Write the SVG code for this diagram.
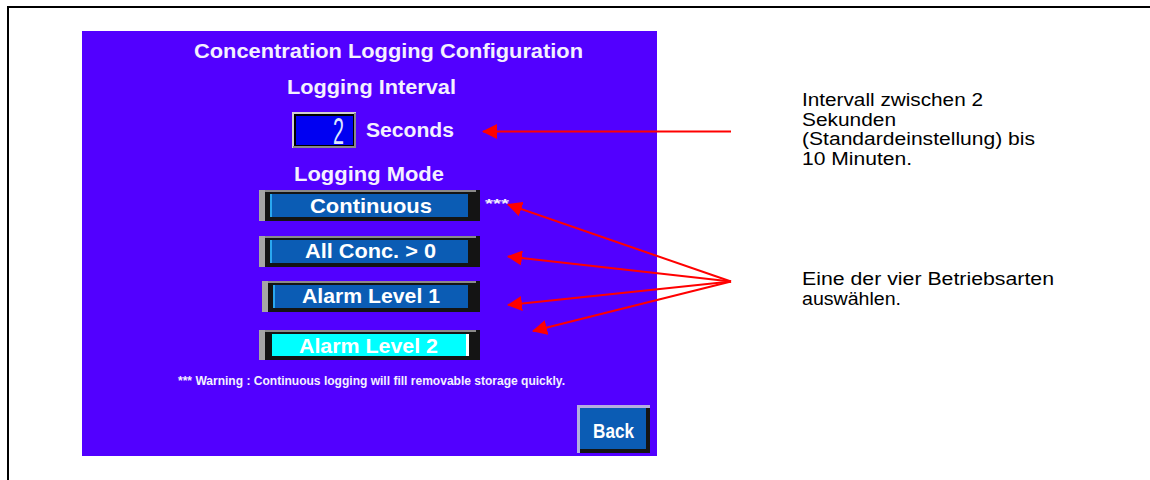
<svg xmlns="http://www.w3.org/2000/svg" width="1150" height="480" viewBox="0 0 1150 480">
  <style>
    .frame { fill: none; stroke: #000; stroke-width: 2; }
    .panel { fill: #5200ff; }
    .hdr { font-family: "Liberation Sans", Arial, sans-serif; font-weight: bold; font-size: 20px; fill: #f4f0ff; }
    .btn-body { fill: #141414; }
    .btn-bevel { fill: #a6a6a6; }
    .btn-top { fill: #8a8a8a; }
    .btn-face { fill: #0b5cb4; }
    .btn-face-hl { fill: #2aa8f0; }
    .btn-face-on { fill: #00ffff; }
    .btn-label { font-family: "Liberation Sans", Arial, sans-serif; font-weight: bold; font-size: 21px; fill: #ffffff; }
    .note { font-family: "Liberation Sans", Arial, sans-serif; font-size: 17.5px; fill: #000; }
    .warn { font-family: "Liberation Sans", Arial, sans-serif; font-weight: bold; font-size: 12px; fill: #f4f0ff; }
    .arrow { stroke: #ff0000; stroke-width: 2; fill: none; marker-end: url(#arrowhead); }
  </style>
  <defs>
    <marker id="arrowhead" markerUnits="userSpaceOnUse" markerWidth="15" markerHeight="15" viewBox="0 0 15 15" refX="14" refY="7.5" orient="auto">
      <path d="M0,0 L15,7.5 L0,15 Z" fill="#ff0000"/>
    </marker>
  </defs>

  <rect width="1150" height="480" fill="#ffffff"/>
  <!-- page frame (open to the right and bottom) -->
  <path class="frame" d="M8,480 L8,7 L1150,7"/>

  <!-- screen panel -->
  <g id="screen">
    <rect class="panel" x="82" y="31" width="575" height="425"/>
    <text class="hdr" x="194" y="58" textLength="389" lengthAdjust="spacingAndGlyphs">Concentration Logging Configuration</text>
    <text class="hdr" x="287" y="94" textLength="169" lengthAdjust="spacingAndGlyphs">Logging Interval</text>
  </g>

  <g id="interval-input">
    <rect x="292" y="112" width="64" height="36" fill="#d0d0d0"/>
    <rect x="354" y="113" width="2" height="35" fill="#8a8a8a"/>
    <rect x="293" y="146" width="63" height="2" fill="#8a8a8a"/>
    <rect x="294" y="114" width="60" height="32" fill="#000000"/>
    <rect x="296" y="116" width="57" height="29" fill="#0000f2"/>
    <text x="344" y="144" text-anchor="end" font-family="Liberation Sans, Arial, sans-serif" font-size="36" fill="#dce6ff" textLength="11" lengthAdjust="spacingAndGlyphs">2</text>
  </g>
  <g id="seconds-label">
    <text class="hdr" x="366" y="136.5" textLength="88" lengthAdjust="spacingAndGlyphs">Seconds</text>
  </g>

  <g id="mode-title">
    <text class="hdr" x="294" y="181" textLength="150" lengthAdjust="spacingAndGlyphs">Logging Mode</text>
  </g>

  <!-- mode buttons -->
  <g id="btn-continuous">
    <rect class="btn-body" x="259" y="190" width="221" height="31"/>
    <rect class="btn-top" x="259" y="190" width="217" height="2"/>
    <rect class="btn-bevel" x="259" y="190" width="6" height="31"/>
    <rect class="btn-face" x="270" y="194" width="198" height="23"/>
    <rect class="btn-face-hl" x="270" y="194" width="2" height="23"/>
    <text class="btn-label" x="310" y="213.3" textLength="122" lengthAdjust="spacingAndGlyphs">Continuous</text>
  </g>
  <g id="continuous-mark">
    <text class="warn" x="485" y="208" font-size="14" textLength="24" lengthAdjust="spacingAndGlyphs">***</text>
  </g>

  <g id="btn-all-conc">
    <rect class="btn-body" x="259" y="236" width="221" height="31"/>
    <rect class="btn-top" x="259" y="236" width="217" height="2"/>
    <rect class="btn-bevel" x="259" y="236" width="6" height="31"/>
    <rect class="btn-face" x="270" y="240" width="198" height="23"/>
    <rect class="btn-face-hl" x="270" y="240" width="2" height="23"/>
    <text class="btn-label" x="305" y="258" textLength="131" lengthAdjust="spacingAndGlyphs">All Conc. &gt; 0</text>
  </g>

  <g id="btn-alarm-1">
    <rect class="btn-body" x="262" y="281" width="218" height="31"/>
    <rect class="btn-top" x="262" y="281" width="214" height="2"/>
    <rect class="btn-bevel" x="262" y="281" width="6" height="31"/>
    <rect class="btn-face" x="273" y="285" width="195" height="23"/>
    <rect class="btn-face-hl" x="273" y="285" width="2" height="23"/>
    <text class="btn-label" x="302" y="303.3" textLength="138" lengthAdjust="spacingAndGlyphs">Alarm Level 1</text>
  </g>

  <g id="btn-alarm-2">
    <rect class="btn-body" x="259" y="330" width="221" height="30"/>
    <rect class="btn-top" x="259" y="330" width="217" height="2"/>
    <rect class="btn-bevel" x="259" y="330" width="6" height="30"/>
    <rect class="btn-face-on" x="272" y="334" width="196" height="22"/>
    <rect fill="#ffffff" x="466" y="334" width="3" height="22"/>
    <text class="btn-label" x="299" y="352.7" textLength="139" lengthAdjust="spacingAndGlyphs">Alarm Level 2</text>
  </g>

  <g id="warning">
    <text class="warn" x="178" y="385" textLength="387" lengthAdjust="spacingAndGlyphs">*** Warning : Continuous logging will fill removable storage quickly.</text>
  </g>

  <g id="btn-back">
    <rect x="577" y="405" width="73" height="48" fill="#b4aee0"/>
    <rect x="580" y="408" width="70" height="45" fill="#141414"/>
    <rect class="btn-face" x="580" y="408" width="66" height="41"/>
    <text class="btn-label" x="613.5" y="438" font-size="17.5" text-anchor="middle" textLength="41" lengthAdjust="spacingAndGlyphs">Back</text>
  </g>

  <!-- callout texts -->
  <g id="note-interval">
    <text class="note" x="802" y="106" textLength="181" lengthAdjust="spacingAndGlyphs">Intervall zwischen 2</text>
    <text class="note" x="802" y="125.5" textLength="94" lengthAdjust="spacingAndGlyphs">Sekunden</text>
    <text class="note" x="802" y="145" textLength="233" lengthAdjust="spacingAndGlyphs">(Standardeinstellung) bis</text>
    <text class="note" x="802" y="164.5" textLength="110" lengthAdjust="spacingAndGlyphs">10 Minuten.</text>
  </g>
  <g id="note-mode">
    <text class="note" x="802" y="285" textLength="252" lengthAdjust="spacingAndGlyphs">Eine der vier Betriebsarten</text>
    <text class="note" x="802" y="305" textLength="99" lengthAdjust="spacingAndGlyphs">auswählen.</text>
  </g>

  <!-- connectors -->
  <g id="connectors">
    <line class="arrow" x1="731" y1="131.5" x2="483" y2="131.5"/>
    <line class="arrow" x1="731" y1="281.5" x2="508" y2="204.5"/>
    <line class="arrow" x1="731" y1="281.5" x2="508" y2="256.5"/>
    <line class="arrow" x1="731" y1="281.5" x2="508" y2="305"/>
    <line class="arrow" x1="731" y1="281.5" x2="533" y2="331"/>
  </g>
</svg>
